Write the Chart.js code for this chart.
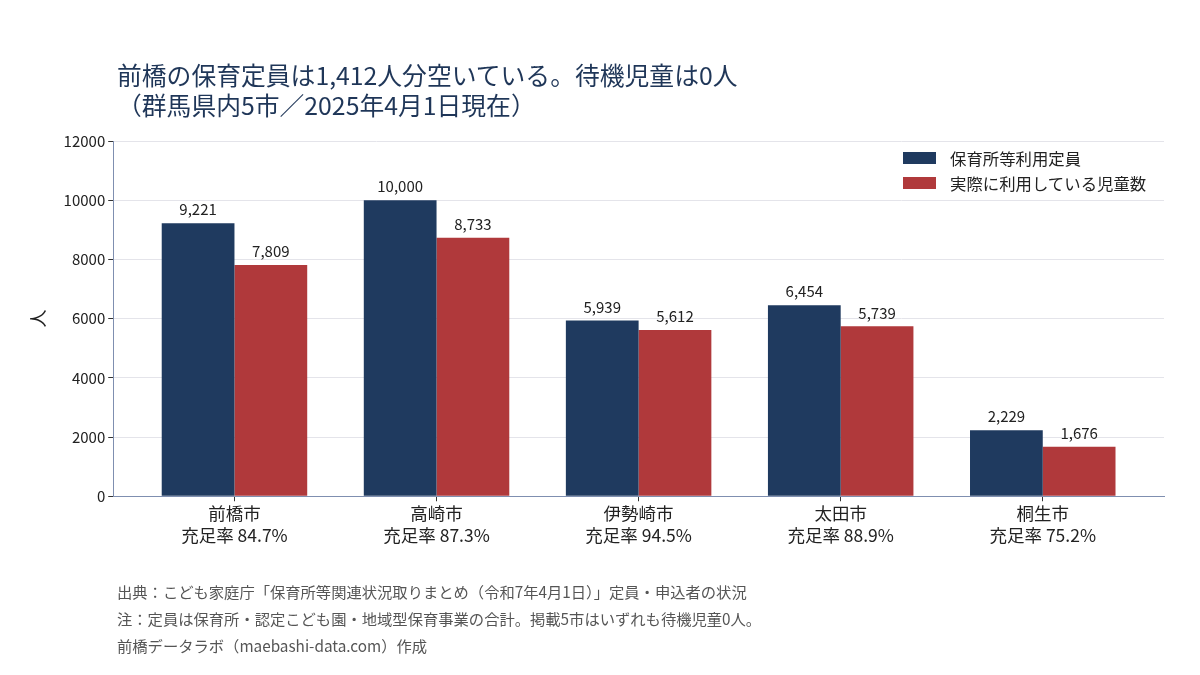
<!DOCTYPE html>
<html lang="ja">
<head>
<meta charset="utf-8">
<title>前橋の保育定員</title>
<script src="https://cdn.jsdelivr.net/npm/chart.js@4.4.1/dist/chart.umd.min.js"></script>
<style>
  body { margin: 0; background: #fff; }
  #wrap { position: relative; width: 1200px; height: 675px; background: #fff; font-family: 'Noto Sans CJK JP', 'Noto Sans', sans-serif; }
  #c { position: absolute; left: 0; top: 0; }
  #title { position: absolute; left: 117px; top: 59px; font-size: 24.8px; line-height: 30px; color: #1f3658; white-space: nowrap; }
  #legend { position: absolute; left: 903px; top: 145px; }
  #legend ul { list-style: none; margin: 0; padding: 0; }
  #notes { position: absolute; left: 117px; top: 578px; font-size: 15.3px; line-height: 27px; color: #555; white-space: nowrap; }
</style>
</head>
<body>
<div id="wrap">
  <canvas id="c" width="1200" height="675"></canvas>
  <div id="title">前橋の保育定員は1,412人分空いている。待機児童は0人<br>（群馬県内5市／2025年4月1日現在）</div>
  <div id="legend"></div>
  <div id="notes">
    出典：こども家庭庁「保育所等関連状況取りまとめ（令和7年4月1日）」定員・申込者の状況<br>
    注：定員は保育所・認定こども園・地域型保育事業の合計。掲載5市はいずれも待機児童0人。<br>
    前橋データラボ（maebashi-data.com）作成
  </div>
</div>
<script>
const cities = ['前橋市', '高崎市', '伊勢崎市', '太田市', '桐生市'];
const capacity = [9221, 10000, 5939, 6454, 2229];
const enrolled = [7809, 8733, 5612, 5739, 1676];
const seriesNames = ['保育所等利用定員', '実際に利用している児童数'];
const yMax = 12000;
const yStep = 2000;

const NAVY = '#1f3a5f';
const RED = '#b0393b';
const FONT = "'Noto Sans CJK JP', 'Noto Sans', sans-serif";

// fill rate per city, shown under each city name
const rates = cities.map((c, i) => (enrolled[i] / capacity[i] * 100).toFixed(1));

const valueLabels = {
    id: 'valueLabels',
    afterDatasetsDraw(chart) {
        const ctx = chart.ctx;
        ctx.save();
        ctx.font = '15px ' + FONT;
        ctx.fillStyle = '#222';
        ctx.textAlign = 'center';
        ctx.textBaseline = 'bottom';
        chart.data.datasets.forEach((ds, di) => {
            chart.getDatasetMeta(di).data.forEach((bar, i) => {
                ctx.fillText(ds.data[i].y.toLocaleString('en-US'), bar.x, bar.y - 6);
            });
        });
        ctx.restore();
    }
};

const htmlLegend = {
    id: 'htmlLegend',
    afterUpdate(chart) {
        const box = document.getElementById('legend');
        box.innerHTML = '';
        const ul = document.createElement('ul');
        chart.data.datasets.forEach(ds => {
            const li = document.createElement('li');
            li.style.display = 'flex';
            li.style.alignItems = 'center';
            li.style.height = '25px';

            const sw = document.createElement('span');
            sw.style.display = 'inline-block';
            sw.style.width = '33px';
            sw.style.height = '12px';
            sw.style.background = ds.backgroundColor;
            sw.style.marginRight = '14px';

            const txt = document.createElement('span');
            txt.style.fontSize = '16.4px';
            txt.style.color = '#222';
            txt.textContent = ds.label;

            li.appendChild(sw);
            li.appendChild(txt);
            ul.appendChild(li);
        });
        box.appendChild(ul);
    }
};

new Chart(document.getElementById('c'), {
    type: 'bar',
    data: {
        datasets: [
            {
                label: seriesNames[0],
                data: capacity.map((v, i) => ({x: i, y: v})),
                backgroundColor: NAVY
            },
            {
                label: seriesNames[1],
                data: enrolled.map((v, i) => ({x: i, y: v})),
                backgroundColor: RED
            }
        ]
    },
    options: {
        responsive: false,
        animation: false,
        layout: {padding: {top: 141, right: 36, bottom: 128, left: 27}},
        datasets: {bar: {categoryPercentage: 0.72, barPercentage: 1.0}},
        plugins: {
            legend: {display: false},
            title: {display: false},
            tooltip: {enabled: false}
        },
        scales: {
            x: {
                type: 'linear',
                min: -0.6,
                max: 4.6,
                offset: false,
                afterBuildTicks: (scale) => {
                    scale.ticks = cities.map((c, i) => ({value: i}));
                },
                ticks: {
                    autoSkip: false,
                    maxRotation: 0,
                    padding: 1,
                    color: '#222',
                    font: {family: FONT, size: 17.5, lineHeight: 1.25},
                    callback: (v) => [cities[v], '充足率 ' + rates[v] + '%']
                },
                grid: {offset: false, drawOnChartArea: false, tickLength: 5, tickColor: '#333'},
                border: {color: '#7f8fb0', width: 1}
            },
            y: {
                min: 0,
                max: yMax,
                ticks: {
                    stepSize: yStep,
                    padding: 3,
                    color: '#222',
                    font: {family: FONT, size: 15},
                    callback: (v) => String(v)
                },
                grid: {color: '#e4e4ea', tickLength: 5, tickColor: '#333'},
                border: {color: '#7f8fb0', width: 1},
                title: {
                    display: true,
                    text: '人',
                    color: '#222',
                    font: {family: FONT, size: 18},
                    padding: {top: 0, bottom: 12}
                }
            }
        }
    },
    plugins: [valueLabels, htmlLegend]
});
</script>
</body>
</html>
